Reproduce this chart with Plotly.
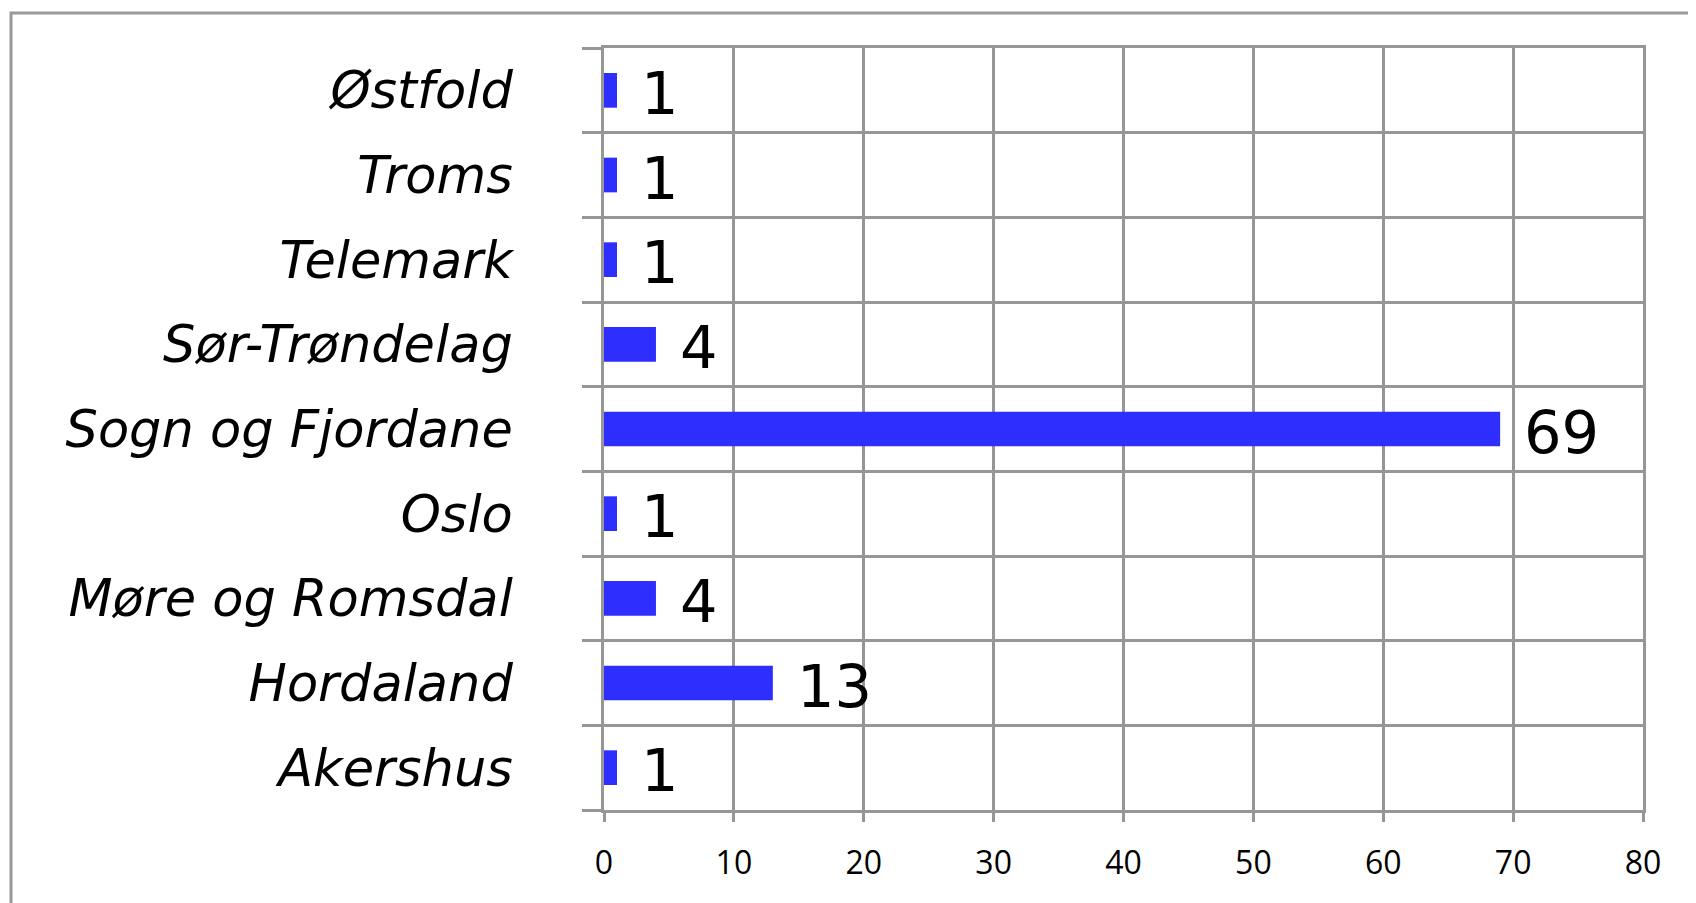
import plotly.graph_objects as go

categories = ["Akershus", "Hordaland", "Møre og Romsdal", "Oslo", "Sogn og Fjordane",
              "Sør-Trøndelag", "Telemark", "Troms", "Østfold"]
values = [1, 13, 4, 1, 69, 4, 1, 1, 1]
x_ticks = [0, 10, 20, 30, 40, 50, 60, 70, 80]

W, H = 1696, 903
L, R, T, B = 596, 61, 40, 101

fig = go.Figure()
fig.add_trace(go.Bar(
    y=categories, x=values, orientation="h",
    marker=dict(color="#2E2EFF", line=dict(width=0)),
    width=0.41, showlegend=False,
))

for c, v in zip(categories, values):
    fig.add_annotation(x=v, y=c, xref="x", yref="y", text=str(v),
                       showarrow=False, xanchor="left", yanchor="middle",
                       xshift=22, yshift=-3,
                       font=dict(family="DejaVu Sans", size=59, color="black"))

grid = "#969696"
fig.update_layout(
    width=W, height=H,
    margin=dict(l=L, r=R, t=T, b=B, autoexpand=False),
    paper_bgcolor="white", plot_bgcolor="white",
    xaxis=dict(range=[0, 80], tickvals=x_ticks, ticktext=[str(t) for t in x_ticks],
               showgrid=True, gridcolor=grid, gridwidth=3,
               zeroline=False, showline=True, linecolor=grid, linewidth=3, mirror=True,
               ticks="outside", ticklen=9, tickwidth=3, tickcolor=grid,
               ticklabelstandoff=14,
               tickfont=dict(family="Open Sans", size=32, color="black")),
    yaxis=dict(categoryorder="array", categoryarray=categories,
               range=[-0.5, len(categories) - 0.5],
               tickson="boundaries", showgrid=True, gridcolor=grid, gridwidth=3,
               zeroline=False, showline=True, linecolor=grid, linewidth=3, mirror=True,
               ticks="outside", ticklen=19, tickwidth=3, tickcolor=grid,
               ticklabelstandoff=78,
               tickfont=dict(family="DejaVu Sans", size=51, color="black", style="italic")),
    shapes=[dict(type="rect", xref="paper", yref="paper",
                 x0=(3 - L) / (W - L - R), x1=1.2,
                 y0=-0.3, y1=1 + (T - 5) / (H - T - B),
                 line=dict(color="#999999", width=3), fillcolor="rgba(0,0,0,0)",
                 layer="below")],
)

fig.write_html("out.html")
